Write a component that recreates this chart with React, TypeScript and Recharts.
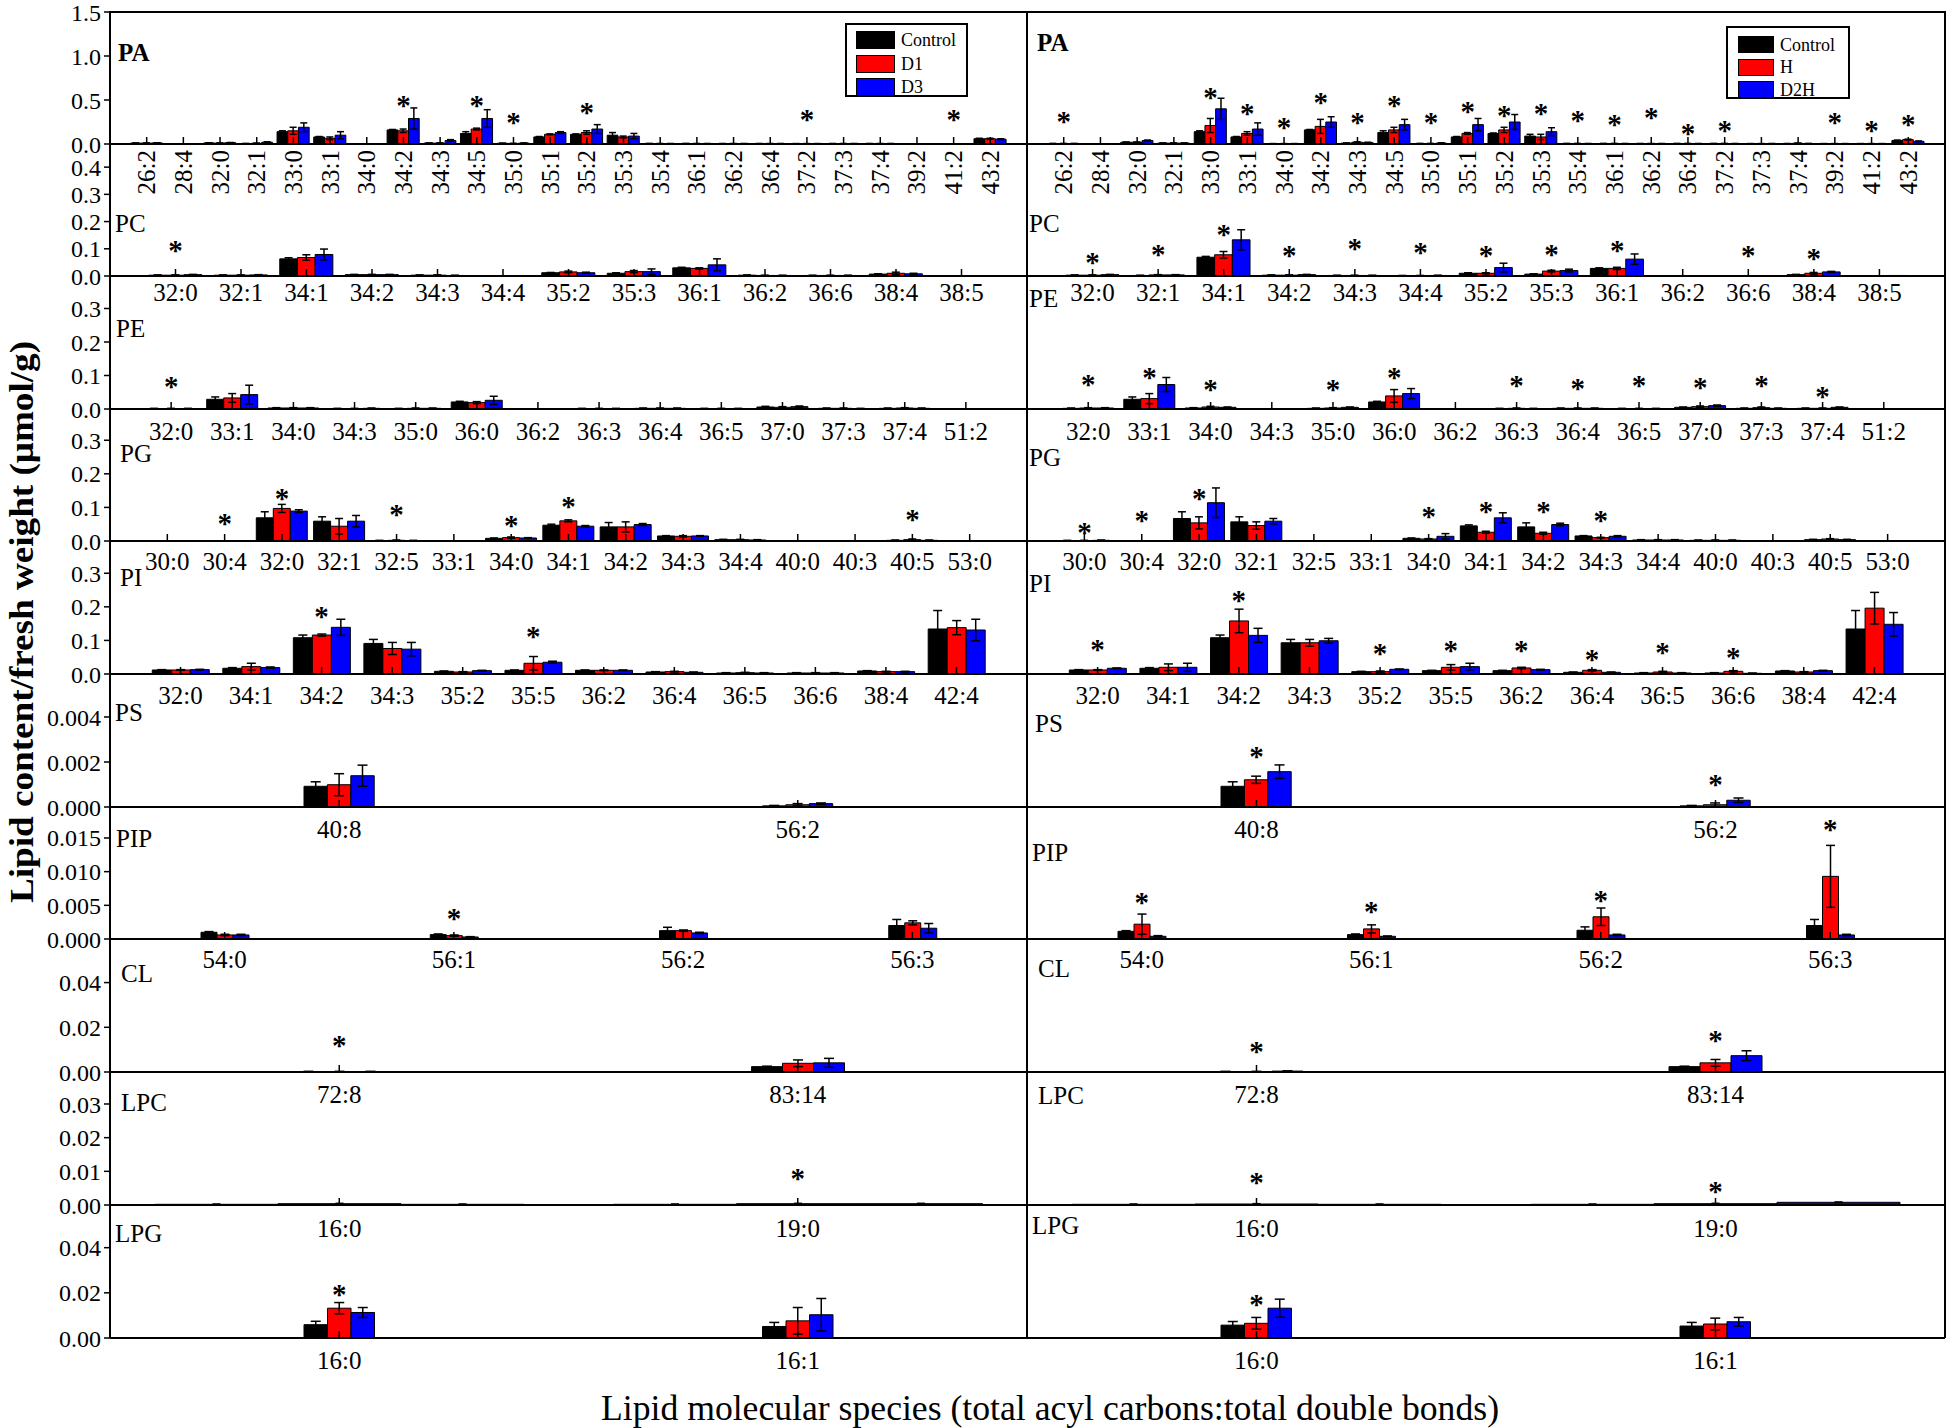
import React from 'react';
import { ComposedChart, Bar, Line, XAxis, YAxis, ErrorBar } from 'recharts';

const SERIF = '"Liberation Serif", "Times New Roman", Times, serif';

// ---------- series names / colours ----------
const leftSeries = ['Control', 'D1', 'D3'];
const rightSeries = ['Control', 'H', 'D2H'];
const seriesColors = ['#000000', '#ff0000', '#0000ff'];

// ---------- categories ----------
const paCats = ['26:2','28:4','32:0','32:1','33:0','33:1','34:0','34:2','34:3','34:5','35:0','35:1','35:2','35:3','35:4','36:1','36:2','36:4','37:2','37:3','37:4','39:2','41:2','43:2'];
const pcCats = ['32:0','32:1','34:1','34:2','34:3','34:4','35:2','35:3','36:1','36:2','36:6','38:4','38:5'];
const peCats = ['32:0','33:1','34:0','34:3','35:0','36:0','36:2','36:3','36:4','36:5','37:0','37:3','37:4','51:2'];
const pgCats = ['30:0','30:4','32:0','32:1','32:5','33:1','34:0','34:1','34:2','34:3','34:4','40:0','40:3','40:5','53:0'];
const piCats = ['32:0','34:1','34:2','34:3','35:2','35:5','36:2','36:4','36:5','36:6','38:4','42:4'];
const psCats = ['40:8','56:2'];
const pipCats = ['54:0','56:1','56:2','56:3'];
const clCats = ['72:8','83:14'];
const lpcCats = ['16:0','19:0'];
const lpgCats = ['16:0','16:1'];

// ---------- PA ----------
const paL_ctrl = [0.01,0,0.012,0.005,0.14,0.08,0,0.16,0.01,0.12,0.008,0.08,0.11,0.10,0.005,0.005,0.004,0.004,0.003,0.004,0.004,0,0.001,0.06];
const paL_d1 = [0.01,0,0.01,0.008,0.15,0.065,0,0.15,0.01,0.17,0.006,0.11,0.13,0.08,0.004,0.004,0.004,0.004,0.003,0.004,0.004,0,0.001,0.06];
const paL_d3 = [0.012,0,0.015,0.02,0.19,0.10,0,0.29,0.04,0.29,0.01,0.13,0.17,0.09,0.004,0.004,0.004,0.004,0.003,0.004,0.004,0,0.001,0.055];
const paL_ctrlErr = [0.002,0,0.002,0.002,0.01,0.005,0,0.005,0.002,0.02,0.002,0.005,0.005,0.03,0.002,0.002,0.002,0.002,0.002,0.002,0.002,0,0.001,0.005];
const paL_d1Err = [0.002,0,0.002,0.002,0.04,0.015,0,0.02,0.002,0.01,0.002,0.005,0.02,0.01,0.002,0.002,0.002,0.002,0.002,0.002,0.002,0,0.001,0.005];
const paL_d3Err = [0.002,0,0.002,0.005,0.05,0.04,0,0.12,0.01,0.1,0.002,0.01,0.05,0.03,0.002,0.002,0.002,0.002,0.002,0.002,0.002,0,0.001,0.005];
const paL_star = [null,null,null,null,null,null,null,0.48,null,0.48,0.29,null,0.41,null,null,null,null,null,0.32,null,null,null,0.33,null];

const paR_ctrl = [0.005,0,0.02,0.01,0.14,0.08,0.003,0.16,0.01,0.13,0.005,0.08,0.12,0.09,0.005,0.005,0.004,0.005,0.005,0.003,0.004,0.003,0.003,0.04];
const paR_h = [0.005,0,0.02,0.01,0.21,0.12,0.003,0.20,0.02,0.16,0.005,0.12,0.16,0.08,0.005,0.005,0.004,0.005,0.005,0.003,0.008,0.003,0.003,0.05];
const paR_d2h = [0.005,0,0.04,0.01,0.40,0.17,0.003,0.25,0.015,0.22,0.01,0.22,0.25,0.14,0.004,0.004,0.004,0.004,0.004,0.004,0.005,0.003,0.003,0.03];
const paR_ctrlErr = [0.002,0,0.003,0.002,0.01,0.005,0.002,0.005,0.002,0.02,0.002,0.005,0.005,0.02,0.002,0.002,0.002,0.002,0.002,0.002,0.002,0.002,0.002,0.005];
const paR_hErr = [0.002,0,0.003,0.002,0.08,0.02,0.002,0.08,0.005,0.03,0.002,0.01,0.03,0.03,0.002,0.002,0.002,0.002,0.002,0.002,0.003,0.002,0.002,0.005];
const paR_d2hErr = [0.002,0,0.005,0.002,0.12,0.07,0.002,0.06,0.005,0.06,0.003,0.07,0.085,0.045,0.002,0.002,0.002,0.002,0.002,0.002,0.002,0.002,0.002,0.005];
const paR_star = [0.30,null,null,null,0.58,0.39,0.23,0.52,0.29,0.48,0.29,0.42,0.37,0.39,0.31,0.27,0.35,0.17,0.20,null,null,0.29,0.20,0.27];

// ---------- PC ----------
const pcL_ctrl = [0.003,0.003,0.063,0.005,0.003,0,0.012,0.01,0.03,0.003,0.002,0.007,0];
const pcL_d1 = [0.003,0.003,0.068,0.005,0.003,0,0.015,0.016,0.028,0.002,0.002,0.01,0];
const pcL_d3 = [0.005,0.004,0.079,0.005,0.002,0,0.012,0.016,0.041,0.002,0.002,0.008,0];
const pcL_ctrlErr = [0.001,0.001,0.004,0.001,0.001,0,0.001,0.002,0.002,0.001,0.001,0.001,0];
const pcL_d1Err = [0.001,0.001,0.01,0.001,0.001,0,0.003,0.004,0.002,0.001,0.001,0.004,0];
const pcL_d3Err = [0.001,0.001,0.02,0.001,0.001,0,0.002,0.01,0.022,0.001,0.001,0.002,0];
const pcL_star = [0.109,null,null,null,null,null,null,null,null,null,null,null,null];

const pcR_ctrl = [0.003,0.002,0.069,0.003,0.002,0.001,0.01,0.007,0.028,0,0,0.005,0.001];
const pcR_h = [0.003,0.004,0.078,0.003,0.002,0.001,0.01,0.018,0.028,0,0,0.01,0.001];
const pcR_d2h = [0.005,0.004,0.133,0.005,0.002,0.002,0.031,0.02,0.062,0,0,0.015,0.002];
const pcR_ctrlErr = [0.001,0.001,0.003,0.001,0.001,0.001,0.002,0.001,0.002,0,0,0.001,0];
const pcR_hErr = [0.001,0.001,0.012,0.001,0.001,0.001,0.002,0.003,0.004,0,0,0.003,0];
const pcR_d2hErr = [0.001,0.001,0.037,0.001,0.001,0.001,0.016,0.005,0.019,0,0,0.002,0];
const pcR_star = [0.065,0.094,0.168,0.089,0.115,0.10,0.089,0.094,0.109,null,0.089,0.081,null];

// ---------- PE ----------
const peL_ctrl = [0.001,0.029,0.003,0.001,0.001,0.021,0,0.001,0.002,0.001,0.006,0.002,0.002,0];
const peL_d1 = [0.001,0.033,0.003,0.001,0.002,0.019,0,0.001,0.002,0.001,0.005,0.002,0.003,0];
const peL_d3 = [0.001,0.043,0.003,0.002,0.002,0.026,0,0.001,0.002,0.001,0.007,0.001,0.002,0];
const peL_ctrlErr = [0.001,0.007,0.001,0.001,0.001,0.002,0,0.001,0.001,0.001,0.002,0.001,0.001,0];
const peL_d1Err = [0.001,0.013,0.001,0.001,0.001,0.003,0,0.001,0.001,0.001,0.002,0.001,0.001,0];
const peL_d3Err = [0.001,0.028,0.001,0.001,0.001,0.012,0,0.001,0.001,0.001,0.002,0.001,0.001,0];
const peL_star = [0.079,null,null,null,null,null,null,null,null,null,null,null,null,null];

const peR_ctrl = [0.002,0.029,0.003,0,0.002,0.021,0,0.001,0.002,0.001,0.005,0.002,0.002,0];
const peR_h = [0.003,0.031,0.006,0,0.003,0.039,0,0.002,0.002,0.001,0.007,0.004,0.002,0];
const peR_d2h = [0.003,0.073,0.005,0,0.005,0.046,0,0.001,0.002,0.001,0.01,0.002,0.005,0];
const peR_ctrlErr = [0.001,0.007,0.001,0,0.001,0.002,0,0.001,0.001,0.001,0.001,0.001,0.001,0];
const peR_hErr = [0.001,0.015,0.002,0,0.001,0.019,0,0.001,0.001,0.001,0.002,0.002,0.001,0];
const peR_d2hErr = [0.001,0.021,0.001,0,0.001,0.015,0,0.001,0.001,0.001,0.002,0.001,0.001,0];
const peR_star = [0.086,0.107,0.071,null,0.071,0.107,null,0.081,0.074,0.081,0.076,0.081,0.051,null];

// ---------- PG ----------
const pgL_ctrl = [0,0,0.069,0.059,0.001,0,0.008,0.047,0.042,0.015,0.004,0,0,0.002,0];
const pgL_d1 = [0,0,0.097,0.044,0.002,0,0.01,0.06,0.042,0.014,0.004,0,0,0.004,0];
const pgL_d3 = [0,0,0.089,0.059,0.001,0,0.009,0.044,0.049,0.015,0.003,0,0,0.002,0];
const pgL_ctrlErr = [0,0,0.018,0.013,0.001,0,0.001,0.003,0.013,0.001,0.001,0,0,0.001,0];
const pgL_d1Err = [0,0,0.012,0.023,0.001,0,0.002,0.003,0.015,0.002,0.001,0,0,0.002,0];
const pgL_d3Err = [0,0,0.004,0.017,0.001,0,0.001,0.002,0.003,0.001,0.001,0,0,0.001,0];
const pgL_star = [null,0.064,0.139,null,0.092,null,0.057,0.114,null,null,null,null,null,0.077,null];

const pgR_ctrl = [0.001,0,0.067,0.057,0,0,0.008,0.045,0.042,0.015,0.003,0.002,0,0.004,0];
const pgR_h = [0.001,0,0.054,0.046,0,0,0.006,0.026,0.023,0.01,0.003,0.002,0,0.006,0];
const pgR_d2h = [0.002,0,0.114,0.059,0,0,0.014,0.069,0.049,0.014,0.003,0.002,0,0.004,0];
const pgR_ctrlErr = [0.001,0,0.02,0.015,0,0,0.001,0.003,0.012,0.001,0.001,0.001,0,0.001,0];
const pgR_hErr = [0.001,0,0.018,0.011,0,0,0.001,0.003,0.003,0.001,0.001,0.001,0,0.001,0];
const pgR_d2hErr = [0.001,0,0.044,0.008,0,0,0.008,0.015,0.004,0.002,0.001,0.001,0,0.001,0];
const pgR_star = [0.039,0.074,0.139,null,null,null,0.084,0.10,0.101,0.074,null,null,null,null,null];

// ---------- PI ----------
const piL_ctrl = [0.012,0.017,0.108,0.091,0.008,0.011,0.011,0.006,0.003,0.003,0.009,0.134];
const piL_d1 = [0.012,0.022,0.116,0.076,0.006,0.032,0.011,0.007,0.004,0.003,0.007,0.138];
const piL_d3 = [0.013,0.019,0.139,0.074,0.01,0.035,0.011,0.005,0.003,0.003,0.007,0.131];
const piL_ctrlErr = [0.001,0.002,0.008,0.012,0.001,0.001,0.001,0.001,0.001,0.001,0.001,0.055];
const piL_d1Err = [0.001,0.01,0.003,0.018,0.001,0.02,0.001,0.001,0.001,0.001,0.001,0.021];
const piL_d3Err = [0.001,0.002,0.024,0.02,0.001,0.003,0.001,0.001,0.001,0.001,0.001,0.032];
const piL_star = [null,null,0.184,null,null,0.123,null,null,null,null,null,null];

const piR_ctrl = [0.012,0.017,0.108,0.093,0.007,0.01,0.01,0.005,0.003,0.003,0.009,0.134];
const piR_h = [0.012,0.02,0.158,0.093,0.007,0.02,0.018,0.011,0.006,0.008,0.006,0.196];
const piR_d2h = [0.017,0.02,0.115,0.099,0.014,0.022,0.013,0.005,0.003,0.002,0.01,0.148];
const piR_ctrlErr = [0.001,0.002,0.008,0.01,0.001,0.001,0.001,0.001,0.001,0.001,0.001,0.055];
const piR_hErr = [0.001,0.01,0.035,0.01,0.002,0.008,0.002,0.002,0.002,0.002,0.001,0.047];
const piR_d2hErr = [0.001,0.012,0.021,0.007,0.001,0.01,0.001,0.001,0.001,0.001,0.001,0.035];
const piR_star = [0.086,null,0.23,null,0.073,0.081,0.081,0.054,0.076,0.06,null,null];

// ---------- PS ----------
const psL_ctrl = [0.00092,0.00005];
const psL_d1 = [0.00099,0.0001];
const psL_d3 = [0.00139,0.00015];
const psL_ctrlErr = [0.0002,0.00002];
const psL_d1Err = [0.00049,0.00005];
const psL_d3Err = [0.00047,0.00003];
const psL_star = [null,null];

const psR_ctrl = [0.00092,0.00005];
const psR_h = [0.00121,0.0001];
const psR_d2h = [0.00157,0.0003];
const psR_ctrlErr = [0.0002,0.00002];
const psR_hErr = [0.00016,0.00008];
const psR_d2hErr = [0.0003,0.0001];
const psR_star = [0.00244,0.00119];

// ---------- PIP ----------
const pipL_ctrl = [0.001,0.00065,0.00124,0.002];
const pipL_d1 = [0.0006,0.0005,0.00124,0.0024];
const pipL_d3 = [0.0006,0.0003,0.0009,0.0016];
const pipL_ctrlErr = [0.0001,0.0001,0.0005,0.0009];
const pipL_d1Err = [0.0001,0.0001,0.0001,0.0003];
const pipL_d3Err = [0.0001,0.00005,0.0001,0.0007];
const pipL_star = [null,0.0036,null,null];

const pipR_ctrl = [0.00114,0.00065,0.0013,0.002];
const pipR_h = [0.0022,0.0015,0.0033,0.0093];
const pipR_d2h = [0.0004,0.0004,0.0006,0.0006];
const pipR_ctrlErr = [0.0001,0.0001,0.0005,0.0009];
const pipR_hErr = [0.0015,0.0006,0.0013,0.0046];
const pipR_d2hErr = [0.0001,0.00005,0.0001,0.0001];
const pipR_star = [0.0061,0.0047,0.0063,0.0168];

// ---------- CL ----------
const clL_ctrl = [0.0002,0.0024];
const clL_d1 = [0.0002,0.0039];
const clL_d3 = [0.0002,0.0041];
const clL_ctrlErr = [0.0001,0.0002];
const clL_d1Err = [0.0001,0.0015];
const clL_d3Err = [0.0001,0.002];
const clL_star = [0.0139,null];

const clR_ctrl = [0.0002,0.0024];
const clR_h = [0.0002,0.0041];
const clR_d2h = [0.0004,0.0073];
const clR_ctrlErr = [0.0001,0.0002];
const clR_hErr = [0.0001,0.0015];
const clR_d2hErr = [0.0001,0.0022];
const clR_star = [0.011,0.016];

// ---------- LPC ----------
const lpcL_ctrl = [0.0002,0.0002];
const lpcL_d1 = [0.0004,0.0004];
const lpcL_d3 = [0.0002,0.0004];
const lpcL_ctrlErr = [0.0001,0.0001];
const lpcL_d1Err = [0.0001,0.0001];
const lpcL_d3Err = [0.0001,0.0001];
const lpcL_star = [null,0.009];

const lpcR_ctrl = [0.0002,0.0002];
const lpcR_h = [0.0003,0.0004];
const lpcR_d2h = [0.0002,0.0008];
const lpcR_ctrlErr = [0.0001,0.0001];
const lpcR_hErr = [0.0001,0.0001];
const lpcR_d2hErr = [0.0001,0.0001];
const lpcR_star = [0.008,0.0052];

// ---------- LPG ----------
const lpgL_ctrl = [0.0059,0.0051];
const lpgL_d1 = [0.0132,0.0076];
const lpgL_d3 = [0.0113,0.0103];
const lpgL_ctrlErr = [0.0015,0.0018];
const lpgL_d1Err = [0.0025,0.0059];
const lpgL_d3Err = [0.0022,0.0072];
const lpgL_star = [0.0209,null];

const lpgR_ctrl = [0.0057,0.0053];
const lpgR_h = [0.0065,0.0062];
const lpgR_d2h = [0.0132,0.0072];
const lpgR_ctrlErr = [0.0016,0.0016];
const lpgR_hErr = [0.0026,0.0026];
const lpgR_d2hErr = [0.004,0.0019];
const lpgR_star = [0.0168,null];

// ---------- layout ----------
const PLOT_L = 110;
const MID = 1027;
const PLOT_R = 1945;
const AXIS_W = 100;
const M_TOP = 20;
const XH = 60;

type CellData = { c: number[]; t1: number[]; t2: number[]; ce: number[]; t1e: number[]; t2e: number[]; star: (number | null)[]; lx: number; ly: number };
type Row = { name: string; cats: string[]; top: number; zero: number; max: number; ticks: number[]; dec: number; rotate: boolean; pad: boolean; barSize: number; errW: number; lblOff: number; bold: boolean; L: CellData; R: CellData };

const ROWS: Row[] = [
  { name: 'PA', cats: paCats, top: 12, zero: 144, max: 1.5, ticks: [0, 0.5, 1, 1.5], dec: 1, rotate: true, pad: true, barSize: 10.7, errW: 3.5, lblOff: 6, bold: true,
    L: { c: paL_ctrl, t1: paL_d1, t2: paL_d3, ce: paL_ctrlErr, t1e: paL_d1Err, t2e: paL_d3Err, star: paL_star, lx: 118, ly: 52 },
    R: { c: paR_ctrl, t1: paR_h, t2: paR_d2h, ce: paR_ctrlErr, t1e: paR_hErr, t2e: paR_d2hErr, star: paR_star, lx: 1037, ly: 42 } },
  { name: 'PC', cats: pcCats, top: 144, zero: 276, max: 0.485, ticks: [0, 0.1, 0.2, 0.3, 0.4], dec: 1, rotate: false, pad: true, barSize: 17.7, errW: 4, lblOff: 7, bold: false,
    L: { c: pcL_ctrl, t1: pcL_d1, t2: pcL_d3, ce: pcL_ctrlErr, t1e: pcL_d1Err, t2e: pcL_d3Err, star: pcL_star, lx: 115, ly: 223 },
    R: { c: pcR_ctrl, t1: pcR_h, t2: pcR_d2h, ce: pcR_ctrlErr, t1e: pcR_hErr, t2e: pcR_d2hErr, star: pcR_star, lx: 1029, ly: 223 } },
  { name: 'PE', cats: peCats, top: 276, zero: 409, max: 0.397, ticks: [0, 0.1, 0.2, 0.3], dec: 1, rotate: false, pad: true, barSize: 17, errW: 4, lblOff: 13, bold: false,
    L: { c: peL_ctrl, t1: peL_d1, t2: peL_d3, ce: peL_ctrlErr, t1e: peL_d1Err, t2e: peL_d3Err, star: peL_star, lx: 116, ly: 328 },
    R: { c: peR_ctrl, t1: peR_h, t2: peR_d2h, ce: peR_ctrlErr, t1e: peR_hErr, t2e: peR_d2hErr, star: peR_star, lx: 1029, ly: 298 } },
  { name: 'PG', cats: pgCats, top: 409, zero: 541, max: 0.393, ticks: [0, 0.1, 0.2, 0.3], dec: 1, rotate: false, pad: true, barSize: 17, errW: 4, lblOff: 11, bold: false,
    L: { c: pgL_ctrl, t1: pgL_d1, t2: pgL_d3, ce: pgL_ctrlErr, t1e: pgL_d1Err, t2e: pgL_d3Err, star: pgL_star, lx: 120, ly: 453 },
    R: { c: pgR_ctrl, t1: pgR_h, t2: pgR_d2h, ce: pgR_ctrlErr, t1e: pgR_hErr, t2e: pgR_d2hErr, star: pgR_star, lx: 1029, ly: 457 } },
  { name: 'PI', cats: piCats, top: 541, zero: 674, max: 0.396, ticks: [0, 0.1, 0.2, 0.3], dec: 1, rotate: false, pad: true, barSize: 19, errW: 4.5, lblOff: 12, bold: false,
    L: { c: piL_ctrl, t1: piL_d1, t2: piL_d3, ce: piL_ctrlErr, t1e: piL_d1Err, t2e: piL_d3Err, star: piL_star, lx: 120, ly: 577 },
    R: { c: piR_ctrl, t1: piR_h, t2: piR_d2h, ce: piR_ctrlErr, t1e: piR_hErr, t2e: piR_d2hErr, star: piR_star, lx: 1029, ly: 583 } },
  { name: 'PS', cats: psCats, top: 674, zero: 807, max: 0.00591, ticks: [0, 0.002, 0.004], dec: 3, rotate: false, pad: false, barSize: 23.4, errW: 5, lblOff: 13, bold: false,
    L: { c: psL_ctrl, t1: psL_d1, t2: psL_d3, ce: psL_ctrlErr, t1e: psL_d1Err, t2e: psL_d3Err, star: psL_star, lx: 115, ly: 712 },
    R: { c: psR_ctrl, t1: psR_h, t2: psR_d2h, ce: psR_ctrlErr, t1e: psR_hErr, t2e: psR_d2hErr, star: psR_star, lx: 1035, ly: 723 } },
  { name: 'PIP', cats: pipCats, top: 807, zero: 939, max: 0.0196, ticks: [0, 0.005, 0.01, 0.015], dec: 3, rotate: false, pad: false, barSize: 16, errW: 4.5, lblOff: 11, bold: false,
    L: { c: pipL_ctrl, t1: pipL_d1, t2: pipL_d3, ce: pipL_ctrlErr, t1e: pipL_d1Err, t2e: pipL_d3Err, star: pipL_star, lx: 116, ly: 838 },
    R: { c: pipR_ctrl, t1: pipR_h, t2: pipR_d2h, ce: pipR_ctrlErr, t1e: pipR_hErr, t2e: pipR_d2hErr, star: pipR_star, lx: 1032, ly: 852 } },
  { name: 'CL', cats: clCats, top: 939, zero: 1072, max: 0.0595, ticks: [0, 0.02, 0.04], dec: 2, rotate: false, pad: false, barSize: 31, errW: 5, lblOff: 13, bold: false,
    L: { c: clL_ctrl, t1: clL_d1, t2: clL_d3, ce: clL_ctrlErr, t1e: clL_d1Err, t2e: clL_d3Err, star: clL_star, lx: 121, ly: 973 },
    R: { c: clR_ctrl, t1: clR_h, t2: clR_d2h, ce: clR_ctrlErr, t1e: clR_hErr, t2e: clR_d2hErr, star: clR_star, lx: 1038, ly: 968 } },
  { name: 'LPC', cats: lpcCats, top: 1072, zero: 1205, max: 0.0395, ticks: [0, 0.01, 0.02, 0.03], dec: 2, rotate: false, pad: false, barSize: 123, errW: 4, lblOff: 14, bold: false,
    L: { c: lpcL_ctrl, t1: lpcL_d1, t2: lpcL_d3, ce: lpcL_ctrlErr, t1e: lpcL_d1Err, t2e: lpcL_d3Err, star: lpcL_star, lx: 121, ly: 1102 },
    R: { c: lpcR_ctrl, t1: lpcR_h, t2: lpcR_d2h, ce: lpcR_ctrlErr, t1e: lpcR_hErr, t2e: lpcR_d2hErr, star: lpcR_star, lx: 1038, ly: 1095 } },
  { name: 'LPG', cats: lpgCats, top: 1205, zero: 1338, max: 0.0589, ticks: [0, 0.02, 0.04], dec: 2, rotate: false, pad: false, barSize: 23.5, errW: 5, lblOff: 13, bold: false,
    L: { c: lpgL_ctrl, t1: lpgL_d1, t2: lpgL_d3, ce: lpgL_ctrlErr, t1e: lpgL_d1Err, t2e: lpgL_d3Err, star: lpgL_star, lx: 115, ly: 1233 },
    R: { c: lpgR_ctrl, t1: lpgR_h, t2: lpgR_d2h, ce: lpgR_ctrlErr, t1e: lpgR_hErr, t2e: lpgR_d2hErr, star: lpgR_star, lx: 1032, ly: 1225 } },
];

function makeXTick(rotate: boolean, off: number) {
  return (p: any) => {
    const { x, y, payload } = p;
    return (
      <g>
        <line x1={x} x2={x} y1={y} y2={y - 7} stroke="#000" strokeWidth={1.5} />
        {rotate ? (
          <text x={0} y={0} transform={`translate(${x},${y + off}) rotate(-90)`} textAnchor="end" dominantBaseline="central"
            fontSize={25} fontFamily={SERIF} fill="#000">{payload.value}</text>
        ) : (
          <text x={x} y={y + off} dy="0.71em" textAnchor="middle" fontSize={25} fontFamily={SERIF} fill="#000">{payload.value}</text>
        )}
      </g>
    );
  };
}

const StarDot = (p: any) => {
  const v = p && p.payload ? p.payload.star : null;
  if (v == null || p.cy == null || Number.isNaN(p.cy)) return <g key={`st-${p.index}`} />;
  return (
    <text key={`st-${p.index}`} x={p.cx} y={p.cy} dy="0.47em" textAnchor="middle" fontSize={29} fontWeight="bold"
      fontFamily={SERIF} fill="#000">*</text>
  );
};

function Panel({ row, side }: { row: Row; side: 'L' | 'R' }) {
  const isLeft = side === 'L';
  const plotW = isLeft ? MID - PLOT_L : PLOT_R - MID;
  const axisW = isLeft ? AXIS_W : 0;
  const cell = row[side];
  const n = row.cats.length;
  const pad = row.pad ? plotW / (2 * (n + 1)) : 0;
  const data = row.cats.map((cat, i) => ({
    cat,
    c: cell.c[i], t1: cell.t1[i], t2: cell.t2[i],
    ce: cell.ce[i], t1e: cell.t1e[i], t2e: cell.t2e[i],
    star: cell.star[i],
  }));
  const h = row.zero - row.top;
  const W = plotW + axisW;
  const H = h + M_TOP + XH;
  const left = isLeft ? PLOT_L - AXIS_W : MID;
  const keys: [string, string][] = [['c', 'ce'], ['t1', 't1e'], ['t2', 't2e']];
  return (
    <div style={{ position: 'absolute', left, top: row.top - M_TOP, width: W, height: H }}>
      <ComposedChart width={W} height={H} data={data} margin={{ top: M_TOP, right: 0, bottom: 0, left: 0 }}
        barGap={0} barSize={row.barSize}>
        <XAxis dataKey="cat" type="category" interval={0} height={XH} padding={{ left: pad, right: pad }}
          tickSize={0} tickMargin={0} tickLine={false} axisLine={{ stroke: '#000', strokeWidth: 2 }}
          tick={makeXTick(row.rotate, row.lblOff)} />
        {isLeft ? (
          <YAxis type="number" domain={[0, row.max]} allowDataOverflow ticks={row.ticks} interval={0}
            tickFormatter={(v: number) => v.toFixed(row.dec)} width={AXIS_W} tickSize={6} tickMargin={3}
            axisLine={{ stroke: '#000', strokeWidth: 2 }} tickLine={{ stroke: '#000', strokeWidth: 1.5 }}
            tick={{ fill: '#000', fontSize: 24, fontFamily: SERIF }} />
        ) : (
          <YAxis type="number" hide domain={[0, row.max]} allowDataOverflow />
        )}
        {keys.map(([k, e], i) => (
          <Bar key={k} dataKey={k} fill={seriesColors[i]} stroke="#000" strokeWidth={1} barSize={row.barSize}
            isAnimationActive={false}>
            <ErrorBar dataKey={e} width={row.errW} stroke="#000" strokeWidth={1.5} direction="y" />
          </Bar>
        ))}
        <Line dataKey="star" stroke="none" dot={StarDot} activeDot={false} isAnimationActive={false}
          connectNulls={false} legendType="none" />
      </ComposedChart>
    </div>
  );
}

function LegendBox({ names, x, y, w, h, sx, sy, sw, sh, step, tx }: any) {
  return (
    <div style={{ position: 'absolute', left: x, top: y, width: w, height: h, border: '2px solid #000',
      boxSizing: 'border-box', background: '#fff' }}>
      {names.map((nm: string, i: number) => (
        <React.Fragment key={nm}>
          <div style={{ position: 'absolute', left: sx, top: sy + i * step, width: sw, height: sh,
            background: seriesColors[i], border: '1px solid #000', boxSizing: 'border-box' }} />
          <div style={{ position: 'absolute', left: tx, top: sy + i * step + sh / 2 - 11, height: 22, lineHeight: '22px',
            fontFamily: SERIF, fontSize: 18, color: '#000', whiteSpace: 'nowrap' }}>{nm}</div>
        </React.Fragment>
      ))}
    </div>
  );
}

export default function App() {
  const bottom = ROWS[ROWS.length - 1].zero;
  return (
    <div style={{ position: 'absolute', left: 0, top: 0, width: 1952, height: 1428, background: '#fff', overflow: 'hidden' }}>
      {ROWS.map((r) => (
        <React.Fragment key={r.name}>
          <Panel row={r} side="L" />
          <Panel row={r} side="R" />
        </React.Fragment>
      ))}
      <svg width={1952} height={1428} style={{ position: 'absolute', left: 0, top: 0, pointerEvents: 'none' }}>
        <line x1={PLOT_L - 1} x2={PLOT_R + 1} y1={ROWS[0].top} y2={ROWS[0].top} stroke="#000" strokeWidth={2} />
        <line x1={MID} x2={MID} y1={ROWS[0].top} y2={bottom} stroke="#000" strokeWidth={2} />
        <line x1={PLOT_R} x2={PLOT_R} y1={ROWS[0].top} y2={bottom} stroke="#000" strokeWidth={2} />
        {ROWS.map((r) => (
          <React.Fragment key={`lab-${r.name}`}>
            <text x={r.L.lx} y={r.L.ly} dominantBaseline="central" fontSize={25} fontWeight={r.bold ? 'bold' : 'normal'}
              fontFamily={SERIF} fill="#000">{r.name}</text>
            <text x={r.R.lx} y={r.R.ly} dominantBaseline="central" fontSize={25} fontWeight={r.bold ? 'bold' : 'normal'}
              fontFamily={SERIF} fill="#000">{r.name}</text>
          </React.Fragment>
        ))}
        <text x={1050} y={1420} textAnchor="middle" fontSize={35} fontFamily={SERIF} fill="#000"
          textLength={898} lengthAdjust="spacingAndGlyphs">Lipid molecular species (total acyl carbons:total double bonds)</text>
        <text x={0} y={0} transform="translate(33,622) rotate(-90)" textAnchor="middle" fontSize={34} fontWeight="bold"
          fontFamily={SERIF} fill="#000" textLength={562} lengthAdjust="spacingAndGlyphs">Lipid content/fresh weight (μmol/g)</text>
      </svg>
      <LegendBox names={leftSeries} x={845} y={23} w={123} h={74} sx={9} sy={6} sw={39} sh={18} step={23.5} tx={54} />
      <LegendBox names={rightSeries} x={1726} y={26} w={124} h={73} sx={10} sy={8} sw={36} sh={17} step={22.5} tx={52} />
    </div>
  );
}
